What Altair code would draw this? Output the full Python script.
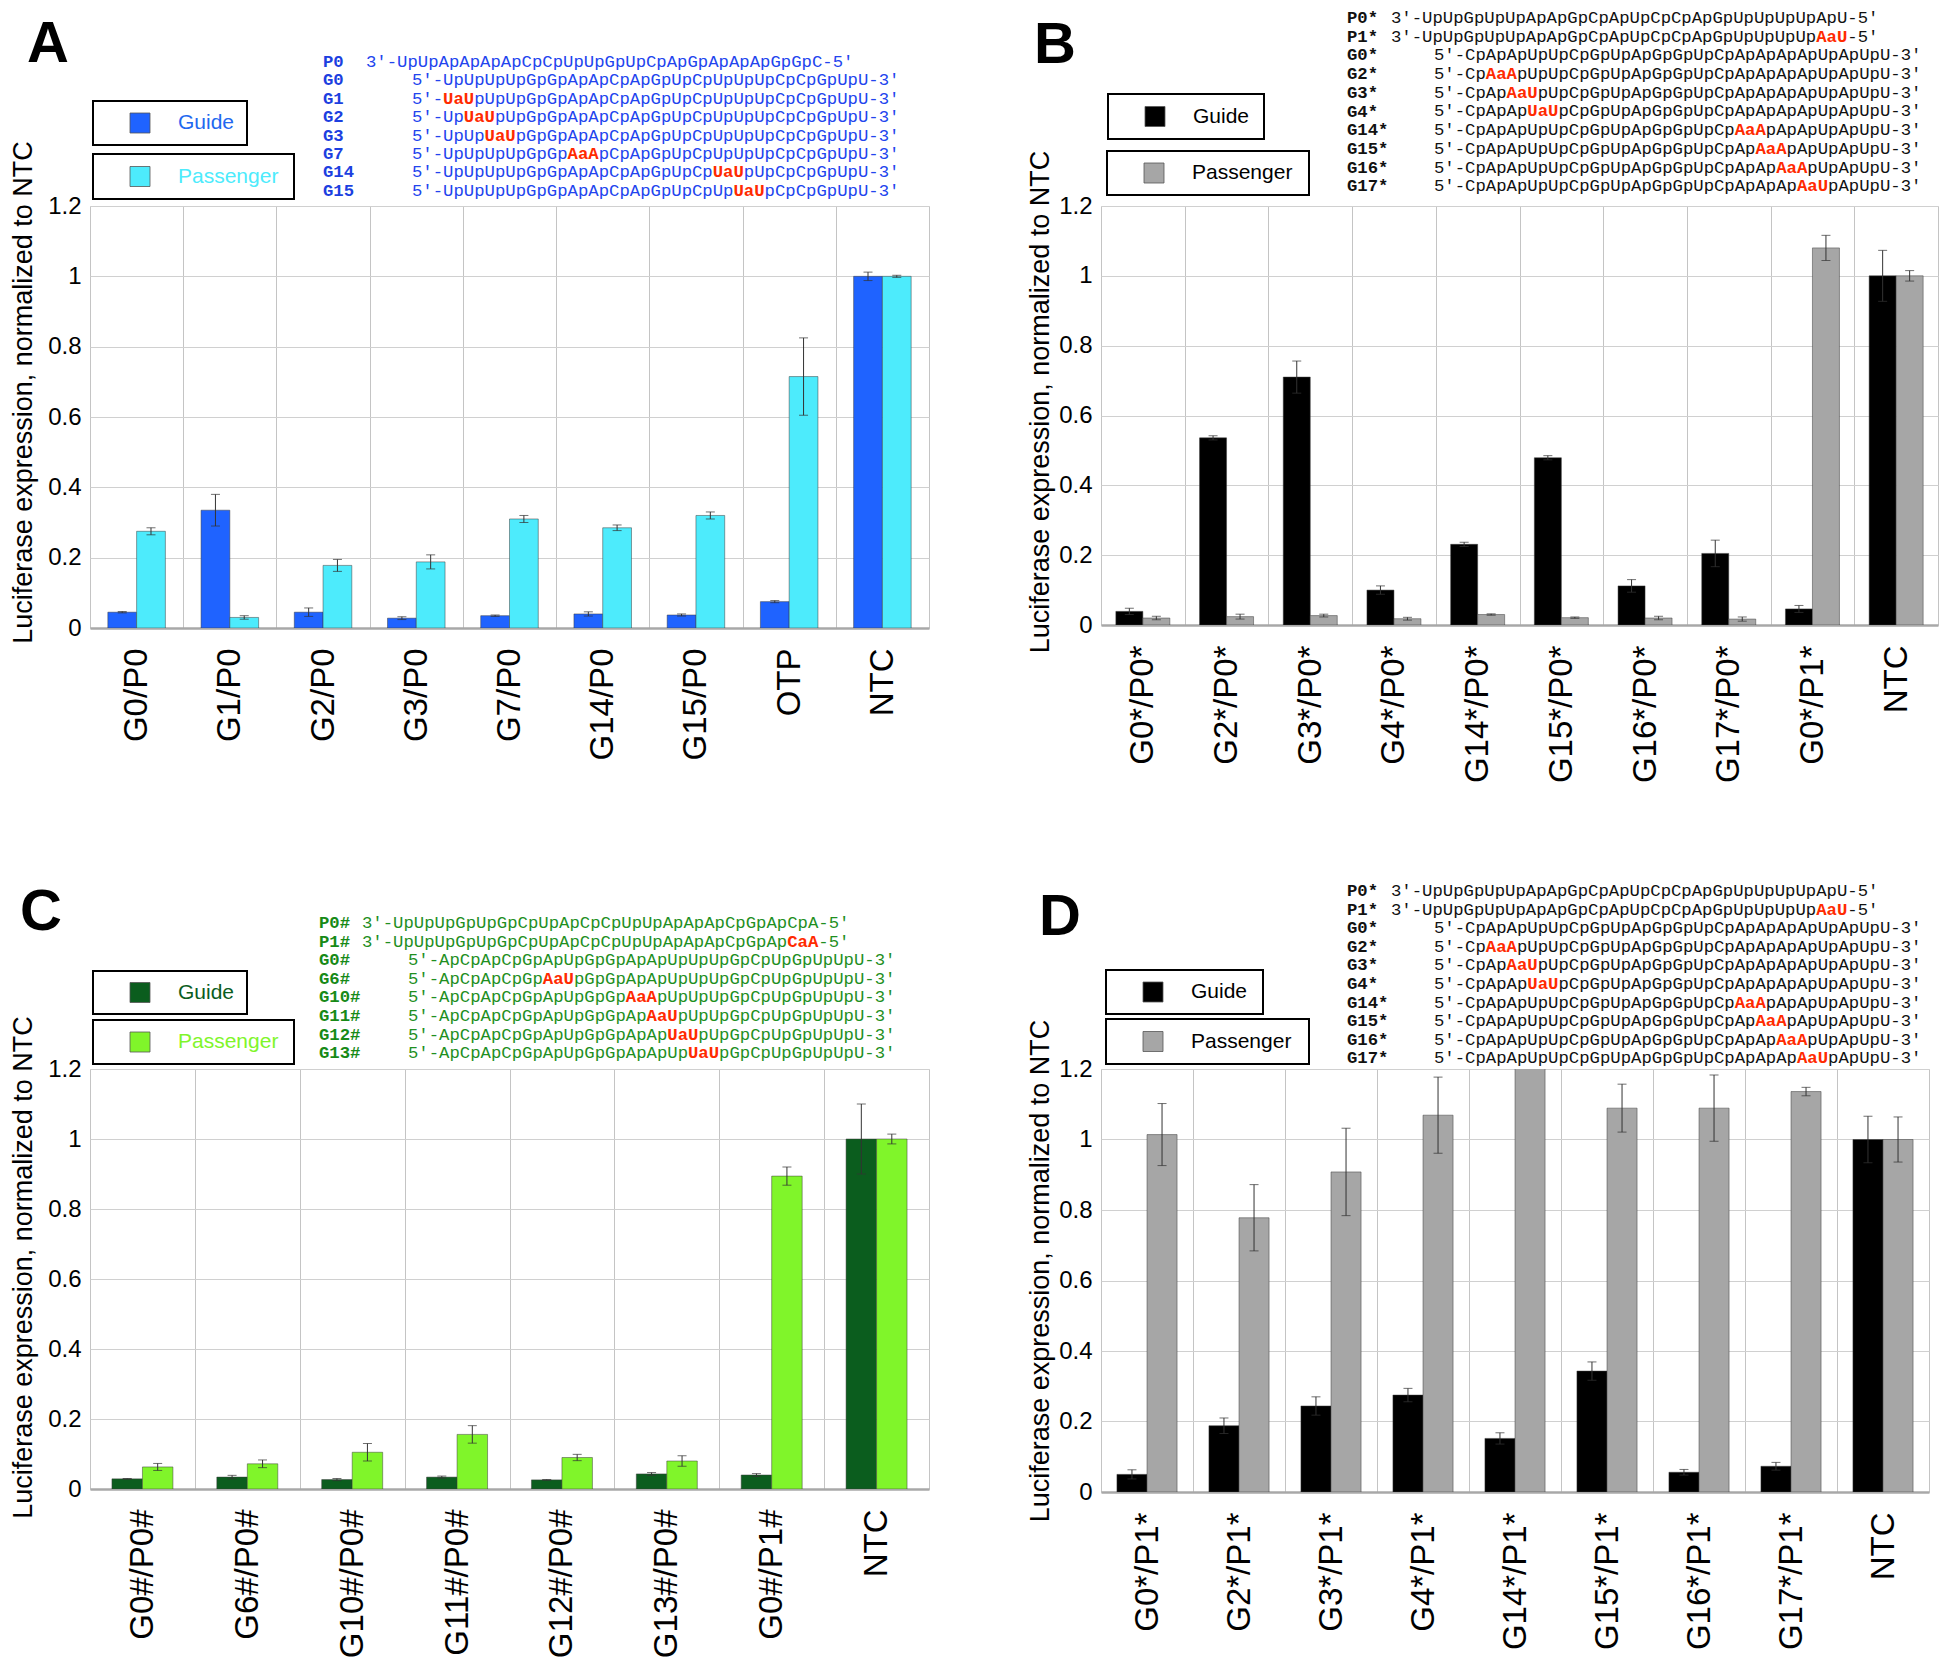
import altair as alt
import pandas as pd

SERIES = ["Guide", "Passenger"]
YTICKS = [0, 0.2, 0.4, 0.6, 0.8, 1, 1.2]
YTITLE = "Luciferase expression, normalized to NTC"

# ---------------- Panel A ----------------
A_CATS = ["G0/P0", "G1/P0", "G2/P0", "G3/P0", "G7/P0", "G14/P0", "G15/P0", "OTP", "NTC"]
A_GUIDE = [0.045, 0.335, 0.045, 0.028, 0.035, 0.040, 0.037, 0.075, 1.0]
A_GUIDE_ERR = [0.002, 0.045, 0.012, 0.004, 0.002, 0.006, 0.003, 0.003, 0.012]
A_PASS = [0.275, 0.030, 0.178, 0.188, 0.310, 0.285, 0.320, 0.715, 1.0]
A_PASS_ERR = [0.010, 0.005, 0.017, 0.020, 0.010, 0.008, 0.010, 0.110, 0.003]
A_LABELS = ["P0", "G0", "G1", "G2", "G3", "G7", "G14", "G15"]
A_P_SEQS = ["3'-UpUpApApApApCpCpUpUpGpUpCpApGpApApApGpGpC-5'"]
A_G_SEQS = [
    "5'-UpUpUpUpGpGpApApCpApGpUpCpUpUpUpCpCpGpUpU-3'",
    "5'-[UaU]pUpUpGpGpApApCpApGpUpCpUpUpUpCpCpGpUpU-3'",
    "5'-Up[UaU]pUpGpGpApApCpApGpUpCpUpUpUpCpCpGpUpU-3'",
    "5'-UpUp[UaU]pGpGpApApCpApGpUpCpUpUpUpCpCpGpUpU-3'",
    "5'-UpUpUpUpGpGp[AaA]pCpApGpUpCpUpUpUpCpCpGpUpU-3'",
    "5'-UpUpUpUpGpGpApApCpApGpUpCp[UaU]pUpCpCpGpUpU-3'",
    "5'-UpUpUpUpGpGpApApCpApGpUpCpUp[UaU]pCpCpGpUpU-3'",
]

# ---------------- Panel B ----------------
B_CATS = ["G0*/P0*", "G2*/P0*", "G3*/P0*", "G4*/P0*", "G14*/P0*", "G15*/P0*",
          "G16*/P0*", "G17*/P0*", "G0*/P1*", "NTC"]
B_GUIDE = [0.039, 0.536, 0.710, 0.100, 0.231, 0.479, 0.112, 0.205, 0.046, 1.0]
B_GUIDE_ERR = [0.009, 0.006, 0.046, 0.012, 0.006, 0.006, 0.018, 0.038, 0.010, 0.073]
B_PASS = [0.020, 0.024, 0.027, 0.018, 0.030, 0.021, 0.020, 0.017, 1.080, 1.0]
B_PASS_ERR = [0.005, 0.007, 0.004, 0.004, 0.002, 0.002, 0.005, 0.006, 0.036, 0.015]

STAR_LABELS = ["P0*", "P1*", "G0*", "G2*", "G3*", "G4*", "G14*", "G15*", "G16*", "G17*"]
STAR_P_SEQS = [
    "3'-UpUpGpUpUpApApGpCpApUpCpCpApGpUpUpUpUpApU-5'",
    "3'-UpUpGpUpUpApApGpCpApUpCpCpApGpUpUpUpUp[AaU]-5'",
]
STAR_G_SEQS = [
    "5'-CpApApUpUpCpGpUpApGpGpUpCpApApApApUpApUpU-3'",
    "5'-Cp[AaA]pUpUpCpGpUpApGpGpUpCpApApApApUpApUpU-3'",
    "5'-CpAp[AaU]pUpCpGpUpApGpGpUpCpApApApApUpApUpU-3'",
    "5'-CpApAp[UaU]pCpGpUpApGpGpUpCpApApApApUpApUpU-3'",
    "5'-CpApApUpUpCpGpUpApGpGpUpCp[AaA]pApApUpApUpU-3'",
    "5'-CpApApUpUpCpGpUpApGpGpUpCpAp[AaA]pApUpApUpU-3'",
    "5'-CpApApUpUpCpGpUpApGpGpUpCpApAp[AaA]pUpApUpU-3'",
    "5'-CpApApUpUpCpGpUpApGpGpUpCpApApAp[AaU]pApUpU-3'",
]

# ---------------- Panel C ----------------
C_CATS = ["G0#/P0#", "G6#/P0#", "G10#/P0#", "G11#/P0#", "G12#/P0#", "G13#/P0#", "G0#/P1#", "NTC"]
C_GUIDE = [0.029, 0.034, 0.027, 0.034, 0.026, 0.043, 0.040, 1.0]
C_GUIDE_ERR = [0.001, 0.005, 0.003, 0.003, 0.001, 0.004, 0.004, 0.100]
C_PASS = [0.063, 0.072, 0.105, 0.156, 0.090, 0.080, 0.894, 1.0]
C_PASS_ERR = [0.010, 0.011, 0.025, 0.025, 0.009, 0.015, 0.026, 0.014]
C_LABELS = ["P0#", "P1#", "G0#", "G6#", "G10#", "G11#", "G12#", "G13#"]
C_P_SEQS = [
    "3'-UpUpUpGpUpGpCpUpApCpCpUpUpApApApCpGpApCpA-5'",
    "3'-UpUpUpGpUpGpCpUpApCpCpUpUpApApApCpGpAp[CaA]-5'",
]
C_G_SEQS = [
    "5'-ApCpApCpGpApUpGpGpApApUpUpUpGpCpUpGpUpUpU-3'",
    "5'-ApCpApCpGp[AaU]pGpGpApApUpUpUpGpCpUpGpUpUpU-3'",
    "5'-ApCpApCpGpApUpGpGp[AaA]pUpUpUpGpCpUpGpUpUpU-3'",
    "5'-ApCpApCpGpApUpGpGpAp[AaU]pUpUpGpCpUpGpUpUpU-3'",
    "5'-ApCpApCpGpApUpGpGpApAp[UaU]pUpGpCpUpGpUpUpU-3'",
    "5'-ApCpApCpGpApUpGpGpApApUp[UaU]pGpCpUpGpUpUpU-3'",
]

# ---------------- Panel D ----------------
D_CATS = ["G0*/P1*", "G2*/P1*", "G3*/P1*", "G4*/P1*", "G14*/P1*", "G15*/P1*",
          "G16*/P1*", "G17*/P1*", "NTC"]
D_GUIDE = [0.050, 0.188, 0.244, 0.275, 0.152, 0.343, 0.056, 0.073, 1.0]
D_GUIDE_ERR = [0.013, 0.022, 0.026, 0.019, 0.016, 0.026, 0.008, 0.011, 0.066]
D_PASS = [1.014, 0.778, 0.908, 1.069, 1.300, 1.089, 1.089, 1.136, 1.0]
D_PASS_ERR = [0.088, 0.094, 0.124, 0.108, 0.050, 0.068, 0.094, 0.012, 0.064]

NBSP = "\u00a0"
ZWSP = "\u200b"
FONT = "Liberation Sans"
MONO = "Liberation Mono"
ONE = pd.DataFrame({"k": [0]})


def split_markup(s):
    base, red, inside = "", "", False
    for ch in s:
        if ch == "[":
            inside = True
            continue
        if ch == "]":
            inside = False
            continue
        if inside:
            base += NBSP
            red += ch
        else:
            base += ch
            red += NBSP
    red = red.rstrip(NBSP)
    # zero-width lead keeps the padding from being trimmed by the renderer
    return ZWSP + base + ZWSP, (ZWSP + red if red else ZWSP)


def seq_layers(lines, x, y0, lh, color):
    base = [split_markup(s)[0] for s in lines]
    red = [split_markup(s)[1] for s in lines]
    t1 = alt.Chart(ONE).mark_text(font=MONO, fontSize=17.3, lineHeight=lh, align="left",
                                  baseline="alphabetic", color=color).encode(
        x=alt.value(x), y=alt.value(y0), text=alt.value(base))
    t2 = alt.Chart(ONE).mark_text(font=MONO, fontSize=17.3, lineHeight=lh, align="left",
                                  baseline="alphabetic", color="#ff2a00", fontWeight="bold").encode(
        x=alt.value(x), y=alt.value(y0), text=alt.value(red))
    return [t1, t2]


def panel(cats, g, ge, p, pe, colors, pad_outer, width, height, letter, letter_xy,
          boxes, legend_colors, labels, p_seqs, g_seqs, seq_x, seq_y0, lh,
          seq_color, label_color, title_x, title_dy):
    rows = []
    for i, c in enumerate(cats):
        rows.append(dict(cat=c, series="Guide", value=g[i], lo=g[i] - ge[i], hi=g[i] + ge[i]))
        rows.append(dict(cat=c, series="Passenger", value=p[i], lo=p[i] - pe[i], hi=p[i] + pe[i]))
    df = pd.DataFrame(rows)

    xaxis = alt.Axis(title=None, labelAngle=270, labelAlign="right", labelBaseline="middle",
                     labelFontSize=33, labelFont=FONT, labelColor="black", labelPadding=20,
                     labelLimit=400, ticks=False, grid=True, gridColor="#c4c4c4", tickBand="extent",
                     domain=True, domainColor="#a8a8a8", domainWidth=2.5)
    yaxis = alt.Axis(values=YTICKS, format="~g", title=YTITLE, titleFontSize=27, titleFont=FONT,
                     titleFontWeight="normal", titleColor="black", titleX=title_x,
                     titleY=height / 2 + title_dy,
                     titleAngle=270, titleAlign="center", titleBaseline="middle",
                     labelFontSize=24, labelFont=FONT, labelColor="black", labelPadding=9,
                     ticks=False, domain=False, grid=True, gridColor="#d0d0d0")
    xs = alt.Scale(paddingInner=0, paddingOuter=0)
    xo = alt.XOffset("series:N", sort=SERIES,
                     scale=alt.Scale(domain=SERIES, paddingInner=0, paddingOuter=pad_outer))
    ysc = alt.Scale(domain=[0, 1.2], nice=False, zero=True)
    xenc = alt.X("cat:N", sort=cats, scale=xs, axis=xaxis)

    base = alt.Chart(df)
    bars = base.mark_bar(clip=True, stroke="#3a3a3a", strokeWidth=0.7, strokeOpacity=0.7).encode(
        x=xenc,
        xOffset=xo,
        y=alt.Y("value:Q", scale=ysc, axis=yaxis),
        color=alt.Color("series:N", scale=alt.Scale(domain=SERIES, range=colors), legend=None),
    )
    err = base.mark_rule(clip=True, color="#333333", strokeWidth=1).encode(
        x=xenc, xOffset=xo, y=alt.Y("lo:Q", scale=ysc, axis=yaxis), y2="hi:Q")
    cap_hi = base.mark_tick(clip=True, color="#333333", size=9, thickness=1, orient="horizontal").encode(
        x=xenc, xOffset=xo, y=alt.Y("hi:Q", scale=ysc, axis=yaxis))
    cap_lo = base.mark_tick(clip=True, color="#333333", size=9, thickness=1, orient="horizontal").encode(
        x=xenc, xOffset=xo, y=alt.Y("lo:Q", scale=ysc, axis=yaxis))

    guard = alt.Chart(ONE).mark_rule(color="white", strokeWidth=1).encode(
        x=alt.value(-80), x2=alt.value(-79), y=alt.value(-197), y2=alt.value(-196))

    layers = [bars, err, cap_hi, cap_lo, guard]

    # legend boxes
    for (bx0, bx1, by0, by1), name, fillc, txtc in zip(boxes, SERIES, colors, legend_colors):
        layers.append(alt.Chart(ONE).mark_rect(fill="white", stroke="black", strokeWidth=2).encode(
            x=alt.value(bx0), x2=alt.value(bx1), y=alt.value(by0), y2=alt.value(by1)))
        cy = (by0 + by1) / 2
        layers.append(alt.Chart(ONE).mark_rect(fill=fillc, stroke="#555555", strokeWidth=0.8).encode(
            x=alt.value(bx0 + 37), x2=alt.value(bx0 + 57), y=alt.value(cy - 10), y2=alt.value(cy + 10)))
        layers.append(alt.Chart(ONE).mark_text(font=FONT, fontSize=21, align="left", baseline="middle",
                                               color=txtc).encode(
            x=alt.value(bx0 + 85), y=alt.value(cy), text=alt.value(name)))

    # panel letter
    layers.append(alt.Chart(ONE).mark_text(font=FONT, fontSize=58, fontWeight="bold", align="left",
                                           baseline="alphabetic", color="black").encode(
        x=alt.value(letter_xy[0]), y=alt.value(letter_xy[1]), text=alt.value(letter)))

    # sequences
    lx, px, gx = seq_x
    layers.append(alt.Chart(ONE).mark_text(font=MONO, fontSize=17.3, fontWeight="bold", lineHeight=lh,
                                           align="left", baseline="alphabetic", color=label_color).encode(
        x=alt.value(lx), y=alt.value(seq_y0), text=alt.value(labels)))
    layers += seq_layers(p_seqs, px, seq_y0, lh, seq_color)
    layers += seq_layers(g_seqs, gx, seq_y0 + lh * len(p_seqs), lh, seq_color)

    return alt.layer(*layers).properties(width=width, height=height)


A = panel(A_CATS, A_GUIDE, A_GUIDE_ERR, A_PASS, A_PASS_ERR, ["#1f63ff", "#4debfc"], 0.62, 839, 422,
          "A", (-63, -144),
          [(3, 157, -105, -61), (3, 204, -52, -7)], ["#2268f0", "#4debfc"],
          A_LABELS, A_P_SEQS, A_G_SEQS, (233, 276, 322), -139, 18.4,
          "#2244ee", "#1c3fe0", -67, -25)

B = panel(B_CATS, B_GUIDE, B_GUIDE_ERR, B_PASS, B_PASS_ERR, ["#000000", "#a6a6a6"], 0.55, 837, 419,
          "B", (-67, -143),
          [(7, 163, -112, -67), (6, 208, -55, -11)], ["#000000", "#000000"],
          STAR_LABELS, STAR_P_SEQS, STAR_G_SEQS, (246, 290, 333), -183, 18.7,
          "#111111", "#111111", -61, -14)

C = panel(C_CATS, C_GUIDE, C_GUIDE_ERR, C_PASS, C_PASS_ERR, ["#0b5d1e", "#80f52a"], 0.72, 839, 420,
          "C", (-70, -139),
          [(3, 157, -98, -55), (3, 204, -49, -5)], ["#0b5d1e", "#80f52a"],
          C_LABELS, C_P_SEQS, C_G_SEQS, (229, 272, 318), -141, 18.6,
          "#1f8f1f", "#178a17", -67, -12)

D = panel(D_CATS, D_GUIDE, D_GUIDE_ERR, D_PASS, D_PASS_ERR, ["#000000", "#a6a6a6"], 0.53, 828, 423,
          "D", (-62, -134),
          [(5, 162, -99, -55), (5, 208, -50, -5)], ["#000000", "#000000"],
          STAR_LABELS, STAR_P_SEQS, STAR_G_SEQS, (246, 290, 333), -173, 18.6,
          "#111111", "#111111", -61, -10)

chart = alt.concat(A, B, C, D, columns=2, spacing={"row": 87, "column": 90}).resolve_scale(
    color="independent", x="independent", y="independent", xOffset="independent"
).properties(
    padding=0, background="white"
).configure_view(stroke="#999999", strokeWidth=1).configure(font=FONT)

chart.save("out.html", embed_options={"renderer": "svg", "actions": False})
